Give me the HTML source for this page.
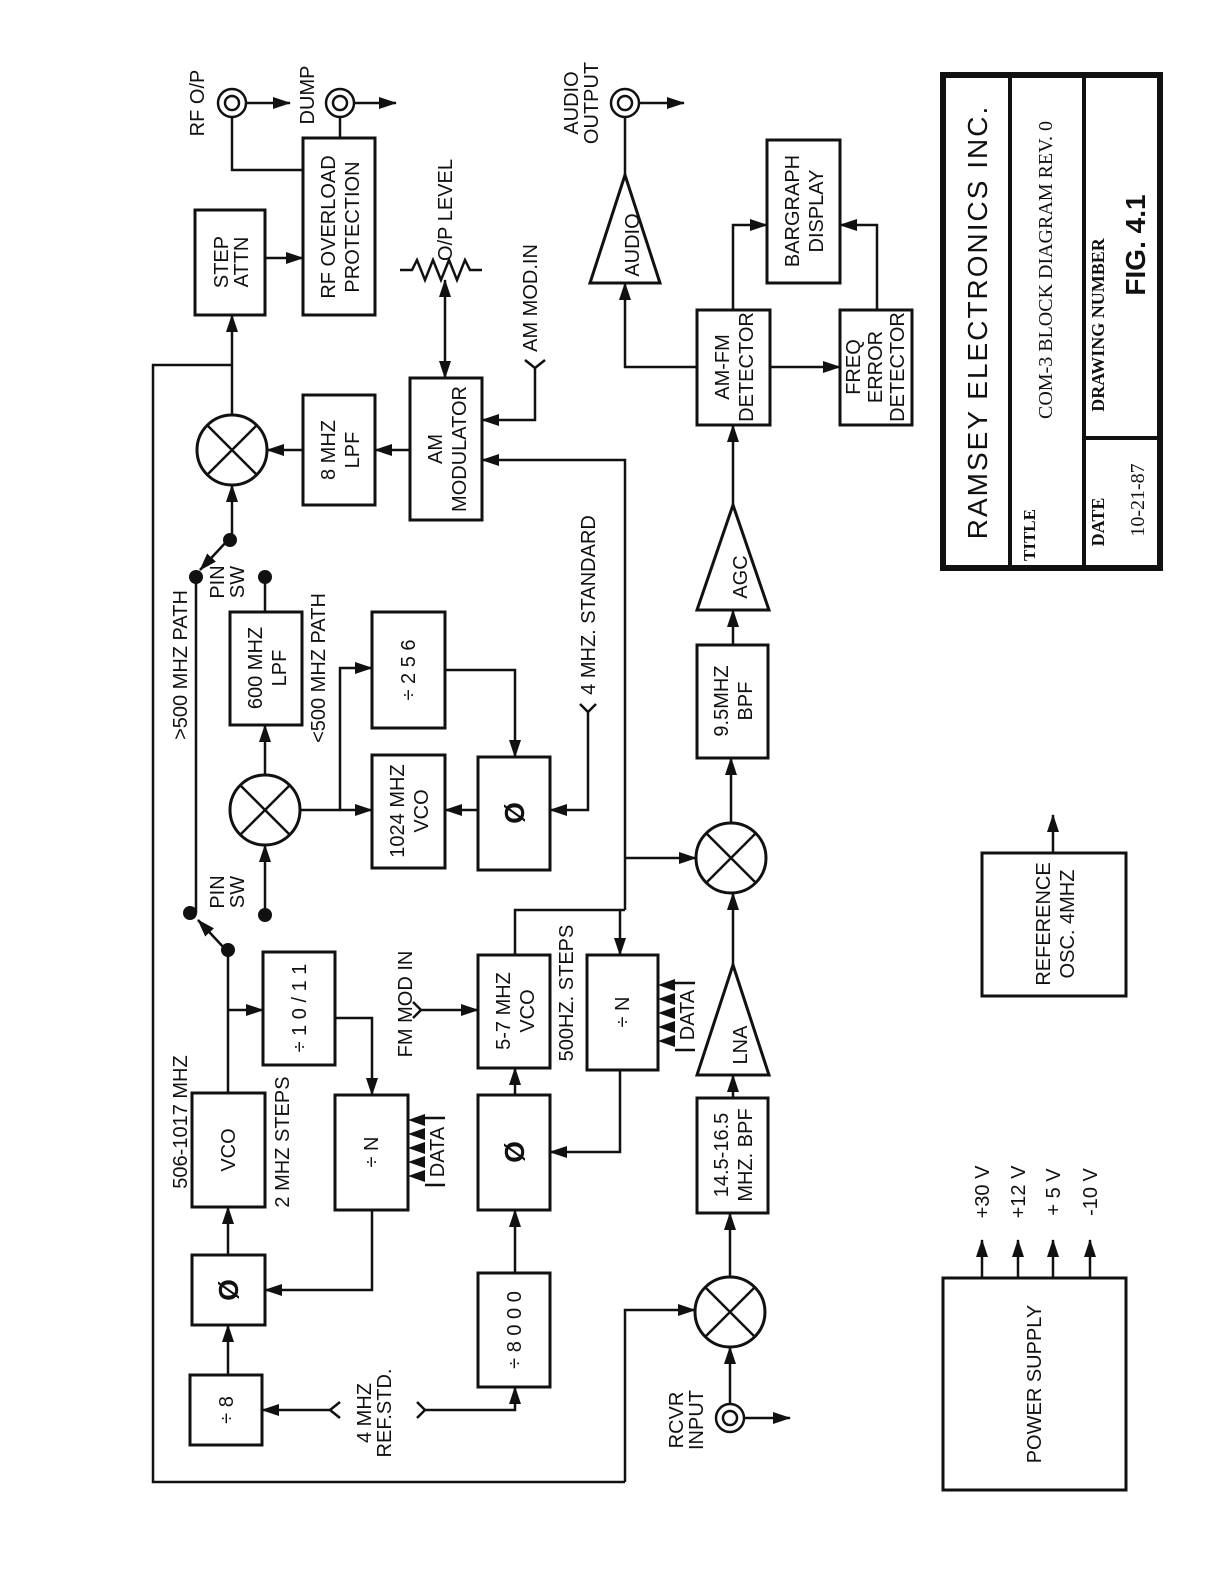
<!DOCTYPE html>
<html><head><meta charset="utf-8"><style>
html,body{margin:0;padding:0;background:#fff;}
svg{display:block;}
text{font-family:"Liberation Sans",sans-serif;font-size:20px;fill:#111;}
</style></head><body>
<svg width="1228" height="1580" viewBox="0 0 1228 1580" xmlns="http://www.w3.org/2000/svg">
<defs>
<marker id="a" viewBox="0 0 18 12" refX="17" refY="6" markerWidth="18" markerHeight="12" orient="auto-start-reverse" markerUnits="userSpaceOnUse">
<path d="M0,0 L18,6 L0,12 z" fill="#111"/>
</marker>
</defs>
<style>
.l{stroke:#111;stroke-width:2.5;fill:none;}
.b{stroke:#111;stroke-width:3;fill:#fff;}
.ar{stroke:#111;stroke-width:2.5;fill:none;marker-end:url(#a);}
</style>
<g>
<rect class="b" x="195" y="210" width="70" height="105"/>
<rect class="b" x="303" y="138" width="72" height="177"/>
<rect class="b" x="303" y="395" width="72" height="110"/>
<rect class="b" x="410" y="378" width="72" height="142"/>
<rect class="b" x="697" y="310" width="73" height="115"/>
<rect class="b" x="767" y="140" width="73" height="143"/>
<rect class="b" x="840" y="310" width="72" height="115"/>
<rect class="b" x="697" y="645" width="71" height="113"/>
<rect class="b" x="697" y="1098" width="71" height="115"/>
<rect class="b" x="230" y="612" width="72" height="113"/>
<rect class="b" x="372" y="612" width="73" height="116"/>
<rect class="b" x="372" y="755" width="73" height="113"/>
<rect class="b" x="478" y="757" width="72" height="113"/>
<rect class="b" x="263" y="952" width="72" height="113"/>
<rect class="b" x="335" y="1095" width="73" height="115"/>
<rect class="b" x="192" y="1093" width="73" height="114"/>
<rect class="b" x="192" y="1255" width="73" height="70"/>
<rect class="b" x="190" y="1375" width="72" height="70"/>
<rect class="b" x="478" y="1273" width="72" height="114"/>
<rect class="b" x="478" y="1095" width="72" height="115"/>
<rect class="b" x="478" y="955" width="72" height="113"/>
<rect class="b" x="587" y="955" width="71" height="115"/>
<rect class="b" x="982" y="853" width="144" height="143"/>
<rect class="b" x="943" y="1278" width="183" height="212"/>
<rect x="943" y="75" width="217" height="493" fill="#fff" stroke="#111" stroke-width="6"/>
<line class="l" x1="1010" y1="75" x2="1010" y2="568" style="stroke-width:4"/>
<line class="l" x1="1084" y1="75" x2="1084" y2="568" style="stroke-width:4"/>
<line class="l" x1="1084" y1="438" x2="1160" y2="438" style="stroke-width:4"/>
<g class="b"><circle cx="232" cy="450" r="35"/><circle cx="265" cy="810" r="35"/><circle cx="731" cy="858" r="35"/><circle cx="730" cy="1312" r="35"/></g>
<g class="l">
<path d="M207,425 L257,475 M257,425 L207,475"/>
<path d="M240,785 L290,835 M290,785 L240,835"/>
<path d="M706,833 L756,883 M756,833 L706,883"/>
<path d="M705,1287 L755,1337 M755,1287 L705,1337"/>
</g>
<g class="b">
<polygon points="625,175 590,283 660,283"/>
<polygon points="733,505 697,610 769,610"/>
<polygon points="733,965 697,1075 769,1075"/>
</g>
<g class="l">
<circle cx="232" cy="103" r="14"/><circle cx="232" cy="103" r="7"/>
<circle cx="340" cy="103" r="14"/><circle cx="340" cy="103" r="7"/>
<circle cx="625" cy="103" r="14"/><circle cx="625" cy="103" r="7"/>
<circle cx="730" cy="1418" r="14"/><circle cx="730" cy="1418" r="7"/>
<line x1="625" y1="117" x2="625" y2="175"/>
</g>
<g class="ar">
<line x1="246" y1="103" x2="290" y2="103"/>
<line x1="354" y1="103" x2="396" y2="103"/>
<line x1="639" y1="103" x2="684" y2="103"/>
<line x1="744" y1="1418" x2="790" y2="1418"/>
<line x1="730" y1="1404" x2="730" y2="1347"/>
<line x1="265" y1="258" x2="303" y2="258"/>
<line x1="232" y1="415" x2="232" y2="315"/>
<line x1="303" y1="450" x2="267" y2="450"/>
<line x1="410" y1="450" x2="375" y2="450"/>
<path d="M625,910 L625,460 L482,460"/>
<path d="M535,368 L535,420 L482,420"/>
<path d="M697,367 L625,367 L625,283"/>
<path d="M733,310 L733,225 L767,225"/>
<line x1="770" y1="367" x2="840" y2="367"/>
<path d="M877,310 L877,225 L840,225"/>
<line x1="733" y1="505" x2="733" y2="425"/>
<line x1="733" y1="645" x2="733" y2="610"/>
<line x1="731" y1="823" x2="731" y2="758"/>
<line x1="625" y1="858" x2="696" y2="858"/>
<line x1="733" y1="965" x2="733" y2="893"/>
<line x1="733" y1="1098" x2="733" y2="1075"/>
<line x1="730" y1="1277" x2="730" y2="1213"/>
<path d="M625,1482 L625,1310 L695,1310"/>
<line x1="232" y1="540" x2="232" y2="485"/>
<line x1="265" y1="775" x2="265" y2="725"/>
<line x1="300" y1="810" x2="372" y2="810"/>
<path d="M340,810 L340,668 L372,668"/>
<path d="M445,670 L515,670 L515,757"/>
<line x1="478" y1="810" x2="445" y2="810"/>
<path d="M588,712 L588,810 L550,810"/>
<line x1="265" y1="915" x2="265" y2="845"/>
<line x1="228" y1="1010" x2="263" y2="1010"/>
<path d="M335,1018 L372,1018 L372,1095"/>
<path d="M372,1210 L372,1290 L265,1290"/>
<line x1="228" y1="1255" x2="228" y2="1207"/>
<line x1="228" y1="1375" x2="228" y2="1325"/>
<line x1="330" y1="1410" x2="262" y2="1410"/>
<path d="M425,1410 L515,1410 L515,1387"/>
<line x1="515" y1="1273" x2="515" y2="1210"/>
<line x1="515" y1="1095" x2="515" y2="1068"/>
<line x1="421" y1="1010" x2="478" y2="1010"/>
<path d="M620,1070 L620,1152 L550,1152"/>
<line x1="620" y1="910" x2="620" y2="955"/>
<line x1="1053" y1="853" x2="1053" y2="815"/>
<line x1="982" y1="1278" x2="982" y2="1240"/>
<line x1="1018" y1="1278" x2="1018" y2="1240"/>
<line x1="1053" y1="1278" x2="1053" y2="1240"/>
<line x1="1090" y1="1278" x2="1090" y2="1240"/>
<line x1="228" y1="540" x2="200" y2="570"/>
<line x1="226" y1="950" x2="198" y2="920"/>
<line x1="445" y1="330" x2="445" y2="280"/>
<line x1="445" y1="330" x2="445" y2="378"/>
</g>
<g class="l">
<path d="M232,117 L232,170 L303,170"/>
<line x1="340" y1="117" x2="340" y2="138"/>
<path d="M625,1482 L153,1482 L153,365 L232,365"/>
<line x1="196" y1="577" x2="196" y2="913"/>
<line x1="265" y1="577" x2="265" y2="612"/>
<path d="M228,950 L228,1093"/>
<path d="M515,955 L515,910 L625,910"/>
<path d="M400,270 L412,270 L417,260 L425,280 L433,260 L441,280 L449,260 L457,280 L465,260 L470,270 L482,270"/>
<path d="M525,360 L535,368 L545,360"/>
<path d="M580,704 L588,712 L596,704"/>
<path d="M340,1402 L330,1410 L340,1418"/>
<path d="M417,1402 L425,1410 L417,1418"/>
<path d="M413,1002 L421,1010 L413,1018"/>
</g>
<g fill="#111">
<circle cx="230" cy="540" r="7"/><circle cx="196" cy="577" r="7"/><circle cx="265" cy="577" r="7"/>
<circle cx="190" cy="913" r="7"/><circle cx="228" cy="950" r="7"/><circle cx="265" cy="915" r="7"/>
<polygon points="408,1120 425,1114 425,1126"/><polygon points="408,1134 425,1128 425,1140"/><polygon points="408,1148 425,1142 425,1154"/><polygon points="408,1162 425,1156 425,1168"/><polygon points="408,1176 425,1170 425,1182"/>
<polygon points="658,985 675,979 675,991"/><polygon points="658,999 675,993 675,1005"/><polygon points="658,1013 675,1007 675,1019"/><polygon points="658,1027 675,1021 675,1033"/><polygon points="658,1041 675,1035 675,1047"/>
</g>
<g class="l"><path d="M425,1118 L445,1118 M425,1185 L445,1185"/><path d="M675,983 L695,983 M675,1050 L695,1050"/></g>
<g>
<text transform="translate(230,262) rotate(-90)" text-anchor="middle" dy="-2">STEP</text>
<text transform="translate(230,262) rotate(-90)" text-anchor="middle" dy="18">ATTN</text>
<text transform="translate(339,227) rotate(-90)" text-anchor="middle" dy="-4">RF OVERLOAD</text>
<text transform="translate(339,227) rotate(-90)" text-anchor="middle" dy="20">PROTECTION</text>
<text transform="translate(339,450) rotate(-90)" text-anchor="middle" dy="-4">8 MHZ</text>
<text transform="translate(339,450) rotate(-90)" text-anchor="middle" dy="20">LPF</text>
<text transform="translate(446,449) rotate(-90)" text-anchor="middle" dy="-4">AM</text>
<text transform="translate(446,449) rotate(-90)" text-anchor="middle" dy="20">MODULATOR</text>
<text transform="translate(733,367) rotate(-90)" text-anchor="middle" dy="-4">AM-FM</text>
<text transform="translate(733,367) rotate(-90)" text-anchor="middle" dy="20">DETECTOR</text>
<text transform="translate(803,211) rotate(-90)" text-anchor="middle" dy="-4">BARGRAPH</text>
<text transform="translate(803,211) rotate(-90)" text-anchor="middle" dy="20">DISPLAY</text>
<text transform="translate(876,367) rotate(-90)" text-anchor="middle" dy="-16">FREQ</text>
<text transform="translate(876,367) rotate(-90)" text-anchor="middle" dy="6">ERROR</text>
<text transform="translate(876,367) rotate(-90)" text-anchor="middle" dy="28">DETECTOR</text>
<text transform="translate(632,245) rotate(-90)" text-anchor="middle" dy="7">AUDIO</text>
<text transform="translate(740,577) rotate(-90)" text-anchor="middle" dy="7">AGC</text>
<text transform="translate(740,1045) rotate(-90)" text-anchor="middle" dy="7">LNA</text>
<text transform="translate(732,701) rotate(-90)" text-anchor="middle" dy="-4">9.5MHZ</text>
<text transform="translate(732,701) rotate(-90)" text-anchor="middle" dy="20">BPF</text>
<text transform="translate(732,1155) rotate(-90)" text-anchor="middle" dy="-4">14.5-16.5</text>
<text transform="translate(732,1155) rotate(-90)" text-anchor="middle" dy="20">MHZ. BPF</text>
<text transform="translate(266,668) rotate(-90)" text-anchor="middle" dy="-4">600  MHZ</text>
<text transform="translate(266,668) rotate(-90)" text-anchor="middle" dy="20">LPF</text>
<text transform="translate(408,670) rotate(-90)" text-anchor="middle" dy="7">÷ 2 5 6</text>
<text transform="translate(408,811) rotate(-90)" text-anchor="middle" dy="-4">1024  MHZ</text>
<text transform="translate(408,811) rotate(-90)" text-anchor="middle" dy="20">VCO</text>
<text transform="translate(514,813) rotate(-90)" text-anchor="middle" dy="10" style="font-size:28px;font-weight:bold">Ø</text>
<text transform="translate(299,1008) rotate(-90)" text-anchor="middle" dy="7">÷ 1 0 / 1 1</text>
<text transform="translate(371,1152) rotate(-90)" text-anchor="middle" dy="7">÷ N</text>
<text transform="translate(228,1150) rotate(-90)" text-anchor="middle" dy="7">VCO</text>
<text transform="translate(228,1290) rotate(-90)" text-anchor="middle" dy="10" style="font-size:28px;font-weight:bold">Ø</text>
<text transform="translate(226,1410) rotate(-90)" text-anchor="middle" dy="7">÷ 8</text>
<text transform="translate(514,1330) rotate(-90)" text-anchor="middle" dy="7">÷ 8 0 0 0</text>
<text transform="translate(514,1152) rotate(-90)" text-anchor="middle" dy="10" style="font-size:28px;font-weight:bold">Ø</text>
<text transform="translate(514,1011) rotate(-90)" text-anchor="middle" dy="-4">5-7  MHZ</text>
<text transform="translate(514,1011) rotate(-90)" text-anchor="middle" dy="20">VCO</text>
<text transform="translate(622,1012) rotate(-90)" text-anchor="middle" dy="7">÷ N</text>
<text transform="translate(1054,924) rotate(-90)" text-anchor="middle" dy="-4">REFERENCE</text>
<text transform="translate(1054,924) rotate(-90)" text-anchor="middle" dy="20">OSC.  4MHZ</text>
<text transform="translate(1034,1384) rotate(-90)" text-anchor="middle" dy="7">POWER SUPPLY</text>
<text transform="translate(197,103) rotate(-90)" text-anchor="middle" dy="7">RF O/P</text>
<text transform="translate(307,95) rotate(-90)" text-anchor="middle" dy="7">DUMP</text>
<text transform="translate(582,103) rotate(-90)" text-anchor="middle" dy="-4">AUDIO</text>
<text transform="translate(582,103) rotate(-90)" text-anchor="middle" dy="16">OUTPUT</text>
<text transform="translate(445,210) rotate(-90)" text-anchor="middle" dy="7">O/P LEVEL</text>
<text transform="translate(530,298) rotate(-90)" text-anchor="middle" dy="7">AM MOD.IN</text>
<text transform="translate(588,605) rotate(-90)" text-anchor="middle" dy="7">4 MHZ. STANDARD</text>
<text transform="translate(180,665) rotate(-90)" text-anchor="middle" dy="7">&gt;500 MHZ PATH</text>
<text transform="translate(318,668) rotate(-90)" text-anchor="middle" dy="7">&lt;500 MHZ PATH</text>
<text transform="translate(228,582) rotate(-90)" text-anchor="middle" dy="-4">PIN</text>
<text transform="translate(228,582) rotate(-90)" text-anchor="middle" dy="16">SW</text>
<text transform="translate(228,892) rotate(-90)" text-anchor="middle" dy="-4">PIN</text>
<text transform="translate(228,892) rotate(-90)" text-anchor="middle" dy="16">SW</text>
<text transform="translate(180,1122) rotate(-90)" text-anchor="middle" dy="7">506-1017    MHZ</text>
<text transform="translate(282,1142) rotate(-90)" text-anchor="middle" dy="7">2 MHZ STEPS</text>
<text transform="translate(437,1152) rotate(-90)" text-anchor="middle" dy="7">DATA</text>
<text transform="translate(687,1015) rotate(-90)" text-anchor="middle" dy="7">DATA</text>
<text transform="translate(405,1004) rotate(-90)" text-anchor="middle" dy="7">FM MOD IN</text>
<text transform="translate(566,993) rotate(-90)" text-anchor="middle" dy="7">500HZ. STEPS</text>
<text transform="translate(375,1413) rotate(-90)" text-anchor="middle" dy="-4">4 MHZ</text>
<text transform="translate(375,1413) rotate(-90)" text-anchor="middle" dy="16">REF.STD.</text>
<text transform="translate(687,1420) rotate(-90)" text-anchor="middle" dy="-4">RCVR</text>
<text transform="translate(687,1420) rotate(-90)" text-anchor="middle" dy="16">INPUT</text>
<text transform="translate(982,1192) rotate(-90)" text-anchor="middle" dy="7">+30  V</text>
<text transform="translate(1018,1192) rotate(-90)" text-anchor="middle" dy="7">+12  V</text>
<text transform="translate(1053,1192) rotate(-90)" text-anchor="middle" dy="7">+ 5   V</text>
<text transform="translate(1090,1192) rotate(-90)" text-anchor="middle" dy="7">-10   V</text>
<text transform="translate(977,322) rotate(-90)" text-anchor="middle" dy="10" style="font-size:28px;letter-spacing:2px">RAMSEY  ELECTRONICS  INC.</text>
<text transform="translate(1028,535) rotate(-90)" text-anchor="middle" dy="7" style="font-size:17px;font-family:'Liberation Serif',serif;font-weight:bold">TITLE</text>
<text transform="translate(1045,270) rotate(-90)" text-anchor="middle" dy="7" style="font-family:'Liberation Serif',serif">COM-3 BLOCK DIAGRAM  REV. 0</text>
<text transform="translate(1097,325) rotate(-90)" text-anchor="middle" dy="7" style="font-size:18px;font-family:'Liberation Serif',serif;font-weight:bold">DRAWING    NUMBER</text>
<text transform="translate(1135,245) rotate(-90)" text-anchor="middle" dy="10" style="font-size:28px;font-weight:bold">FIG.    4.1</text>
<text transform="translate(1097,522) rotate(-90)" text-anchor="middle" dy="7" style="font-size:18px;font-family:'Liberation Serif',serif;font-weight:bold">DATE</text>
<text transform="translate(1137,500) rotate(-90)" text-anchor="middle" dy="7" style="font-family:'Liberation Serif',serif">10-21-87</text>
</g>
</g>
</svg>
</body></html>
